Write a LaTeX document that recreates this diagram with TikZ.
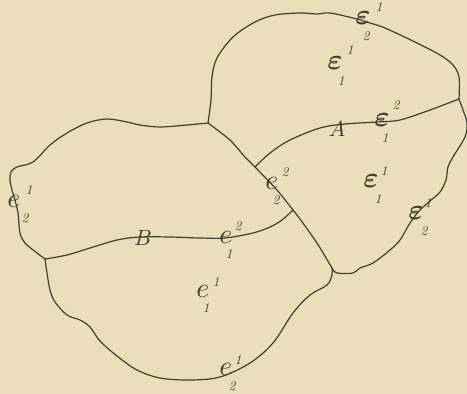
\documentclass[tikz,border=0pt]{standalone}
\definecolor{paper}{HTML}{EBDFBB}
\definecolor{ink}{HTML}{433D2F}
\tikzset{
  edge/.style={draw=ink, line width=1.2pt, line join=round, line cap=round},
  main/.style={text=ink, inner sep=0pt, scale=2.9, font=\boldmath},
  eletter/.style={text=ink, inner sep=0pt, scale=2.8},
  capletter/.style={text=ink, inner sep=0pt, scale=2.2},
  scr/.style={text=ink, inner sep=0pt, scale=1.35, font=\itshape},
}
\begin{document}
\begin{tikzpicture}[x=1pt,y=-1pt]
\fill[paper] (0,0) rectangle (467,394);
\useasboundingbox (0,0) rectangle (467,394);
% junctions
\coordinate (J1) at (208,123);
\coordinate (J2) at (459,99);
\coordinate (J3) at (332,268);
\coordinate (J4) at (255,167);
\coordinate (J5) at (293,210);
\coordinate (J6) at (45,259);
% upper lobe outline
\draw[edge] plot[smooth, tension=0.55] coordinates {(208,123) (211,100) (212,77) (217,58) (233,37) (255,22) (275,15) (300,13) (317,14) (330,13) (357,19) (370,23) (385,28) (417,43) (440,55) (453,65) (459,77) (459,99)};
% right side
\draw[edge] plot[smooth, tension=0.55] coordinates {(459,99) (463,110) (467,123) (465,137) (453,157) (448,167) (446,180) (440,192) (430,201) (420,210) (410,223) (400,240) (390,250) (373,263) (360,268) (353,273) (337,273) (332,268)};
% curve A
\draw[edge] plot[smooth, tension=0.55] coordinates {(459,99) (430,110) (400,120) (377,122) (345,124) (320,128) (290,140) (270,153) (255,167)};
% diagonal
\draw[edge] plot[smooth, tension=0.4] coordinates {(208,123) (230,140) (245,157) (255,167) (277,190) (293,210) (300,219) (317,243) (332,268)};
% left lobe
\draw[edge] plot[smooth, tension=0.55] coordinates {(208,123) (187,125) (160,127) (140,125) (127,122) (107,119) (87,123) (67,133) (50,145) (33,162) (17,167) (11,172) (10,180) (12,190) (15,200) (18,213) (20,233) (25,243) (37,253) (45,259)};
% curve B
\draw[edge] plot[smooth, tension=0.55] coordinates {(45,259) (67,255) (90,248) (117,240) (140,237) (170,237) (200,238) (225,238) (253,233) (270,227) (282,220) (293,210)};
% bottom lobe
\draw[edge] plot[smooth, tension=0.55] coordinates {(45,259) (47,273) (50,290) (55,302) (67,315) (80,320) (90,327) (100,341) (117,356) (137,370) (160,378) (190,380) (220,377) (250,363) (273,343) (293,313) (310,295) (327,285) (332,275) (332,268)};
% labels
\node[main] (eA) at (363,18) {$\varepsilon$};
\node[scr] (eAs) at (379,7) {1};
\node[scr] (eAi) at (366,36) {2};
\node[main] (eB) at (335,63) {$\varepsilon$};
\node[scr] (eBs) at (350,50) {1};
\node[scr] (eBi) at (341,81) {1};
\node[capletter] (lA) at (337,129) {$A$};
\node[main] (eC) at (382,120) {$\varepsilon$};
\node[scr] (eCs) at (396,105) {2};
\node[scr] (eCi) at (385,138) {1};
\node[main] (eD) at (371,181) {$\varepsilon$};
\node[scr] (eDs) at (384,171) {1};
\node[scr] (eDi) at (378,199) {1};
\node[main] (eE) at (416,213) {$\varepsilon$};
\node[scr] (eEs) at (428,203) {1};
\node[scr] (eEi) at (424,231) {2};
\node[eletter] (fA) at (272,183) {$e$};
\node[scr] (fAs) at (285,172) {2};
\node[scr] (fAi) at (276,200) {2};
\node[eletter] (fB) at (14,201) {$e$};
\node[scr] (fBs) at (29,190) {1};
\node[scr] (fBi) at (25,218) {2};
\node[capletter] (lB) at (143,238) {$B$};
\node[eletter] (fC) at (226,237) {$e$};
\node[scr] (fCs) at (238,226) {2};
\node[scr] (fCi) at (229,254) {1};
\node[eletter] (fD) at (203,291) {$e$};
\node[scr] (fDs) at (216,282) {1};
\node[scr] (fDi) at (206,308) {1};
\node[eletter] (fE) at (226,369) {$e$};
\node[scr] (fEs) at (238,360) {1};
\node[scr] (fEi) at (232,386) {2};
\end{tikzpicture}
\end{document}
